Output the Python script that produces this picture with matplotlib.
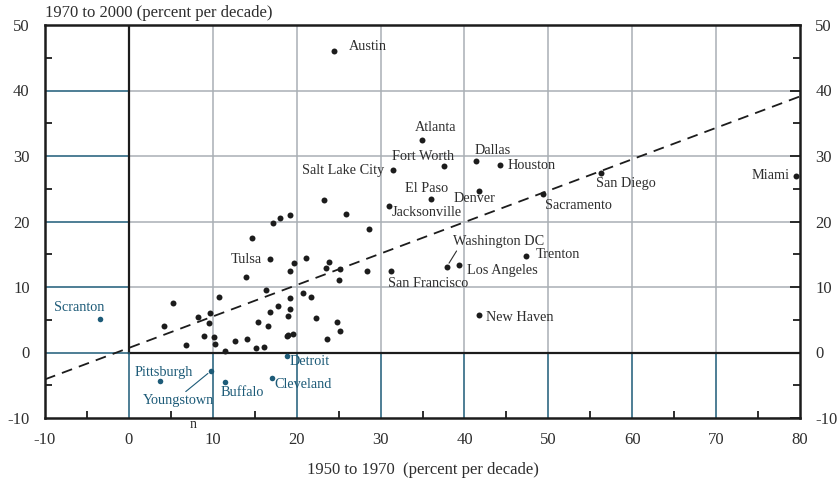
import numpy as np
import matplotlib
matplotlib.use("Agg")
import matplotlib.pyplot as plt

plt.rcParams['font.family'] = ['Liberation Serif', 'DejaVu Serif']
plt.rcParams['axes.unicode_minus'] = False

# labelled cities: growth 1950-1970 (x) and 1970-2000 (y), percent per decade
city_names = ['Austin', 'Atlanta', 'Fort Worth', 'Salt Lake City', 'Dallas', 'Houston',
              'El Paso', 'Denver', 'Jacksonville', 'Sacramento', 'San Diego', 'Miami',
              'Washington DC', 'Los Angeles', 'Trenton', 'San Francisco', 'New Haven',
              'Tulsa', 'Scranton', 'Pittsburgh', 'Youngstown', 'Buffalo', 'Detroit',
              'Cleveland']
city_x = [24.5, 34.9, 37.6, 31.5, 41.4, 44.2, 36.0, 41.7, 31.0, 49.4, 56.3, 79.5,
          37.9, 39.3, 47.3, 31.2, 41.7, 16.8, -3.5, 3.7, 9.8, 11.4, 18.8, 17.0]
city_y = [46.1, 32.5, 28.5, 27.8, 29.2, 28.7, 23.5, 24.6, 22.4, 24.2, 27.4, 26.9,
          13.1, 13.4, 14.8, 12.5, 5.8, 14.2, 5.1, -4.3, -2.8, -4.5, -0.6, -3.9]
declining = ['Scranton', 'Pittsburgh', 'Youngstown', 'Buffalo', 'Detroit', 'Cleveland']

# unlabelled cities
other_x = [23.3, 25.9, 28.6, 17.2, 18.0, 19.2, 14.7, 19.7, 21.1, 23.8, 23.5, 25.2,
           28.4, 19.2, 25.0, 14.0, 16.3, 10.7, 5.3, 20.8, 21.7, 19.2, 17.8, 16.8,
           19.2, 9.7, 8.2, 9.5, 4.2, 15.4, 16.6, 19.0, 22.3, 24.8, 25.2, 23.6,
           18.9, 19.0, 19.6, 8.9, 10.2, 6.8, 10.3, 12.6, 14.1, 11.4, 15.1, 16.1]
other_y = [23.3, 21.2, 18.9, 19.8, 20.5, 21.0, 17.5, 13.7, 14.4, 13.8, 12.9, 12.8,
           12.5, 12.5, 11.0, 11.6, 9.6, 8.5, 7.6, 9.1, 8.4, 8.3, 7.1, 6.2,
           6.7, 6.1, 5.4, 4.5, 4.0, 4.7, 4.0, 5.5, 5.2, 4.6, 3.3, 2.0,
           2.5, 2.7, 2.8, 2.5, 2.4, 1.2, 1.3, 1.7, 2.0, 0.3, 0.7, 0.8]

# fitted trend line
fit_intercept = 0.7
fit_slope = 0.48

# label offsets in pixels (dx right, dy up) and alignment
label_pos = {
    'Austin': (14, 4, 'left'), 'Atlanta': (14, 12, 'center'),
    'Fort Worth': (-21, 9, 'center'), 'Salt Lake City': (-9, 0, 'right'),
    'Dallas': (-2, 11, 'left'), 'Houston': (8, -1, 'left'),
    'El Paso': (-4, 10, 'center'), 'Denver': (-4, -7, 'center'),
    'Jacksonville': (3, -7, 'left'), 'Sacramento': (2, -12, 'left'),
    'San Diego': (-5, -10, 'left'), 'Miami': (-6, 1, 'right'),
    'Washington DC': (6, 25, 'left'), 'Los Angeles': (8, -6, 'left'),
    'Trenton': (10, 1, 'left'), 'San Francisco': (-3, -13, 'left'),
    'New Haven': (7, -3, 'left'), 'Tulsa': (-8, 0, 'right'),
    'Scranton': (-20, 12, 'center'), 'Pittsburgh': (4, 8, 'center'),
    'Youngstown': (-33, -30, 'center'), 'Buffalo': (-4, -11, 'left'),
    'Detroit': (3, -5, 'left'), 'Cleveland': (3, -6, 'left'),
}
leaders = {'Washington DC': (0.06, 0.0), 'Youngstown': (0.56, 1.0)}

black = '#1c1c1c'
text_grey = '#2e2e2e'
teal = '#1d5b78'
grid_grey = '#a9afb5'

fig = plt.figure(figsize=(8.38, 4.79), dpi=100)
ax = fig.add_axes([45 / 838, 1 - 418 / 479, 755 / 838, 393 / 479])
ax.set_xlim(-10, 80)
ax.set_ylim(-10, 50)

# grid: grey in the positive quadrant, teal elsewhere
for gx in range(10, 80, 10):
    ax.axvline(gx, ymin=1 / 6, ymax=1, color=grid_grey, lw=1.1, zorder=1)
    ax.axvline(gx, ymin=0, ymax=1 / 6, color=teal, lw=1.1, zorder=1)
for gy in range(10, 50, 10):
    ax.axhline(gy, xmin=1 / 9, xmax=1, color=grid_grey, lw=1.1, zorder=1)
    ax.axhline(gy, xmin=0, xmax=1 / 9, color=teal, lw=1.1, zorder=1)
ax.axhline(0, xmin=1 / 9, xmax=1, color=black, lw=1.6, zorder=2)
ax.axhline(0, xmin=0, xmax=1 / 9, color=teal, lw=1.1, zorder=2)
ax.axvline(0, ymin=1 / 6, ymax=1, color=black, lw=1.6, zorder=2)
ax.axvline(0, ymin=0, ymax=1 / 6, color=teal, lw=1.1, zorder=2)

# trend line
xl = np.array([-10, 80])
ax.plot(xl, fit_intercept + fit_slope * xl, ls=(0, (6, 4)), color=black, lw=1.3, zorder=3)

ax.plot(other_x, other_y, 'o', color=black, ms=4.3, mew=0, zorder=4)

for name, x, y in zip(city_names, city_x, city_y):
    col = teal if name in declining else black
    tcol = teal if name in declining else text_grey
    ax.plot(x, y, 'o', color=col, ms=4.0 if name in declining else 4.3, mew=0, zorder=4)
    dx, dy, ha = label_pos[name]
    kw = {}
    if name in leaders:
        kw['arrowprops'] = dict(arrowstyle='-', color=tcol, lw=0.8, shrinkA=0, shrinkB=3,
                                relpos=leaders[name])
    ax.annotate(name, (x, y), xytext=(dx * 0.72, dy * 0.72), textcoords='offset points',
                ha=ha, va='center', fontsize=10.3, color=tcol, zorder=5, **kw)

for s in ax.spines.values():
    s.set_linewidth(1.8)
    s.set_color(black)

ax.set_xticks(range(-10, 81, 10))
ax.set_yticks(range(-10, 51, 10))
ax.set_xticks(range(-5, 80, 10), minor=True)
ax.set_yticks(range(-5, 50, 10), minor=True)
ax.tick_params(which='both', direction='in', colors=black, width=1.3,
               left=True, right=True, top=False, bottom=True,
               labelleft=True, labelright=True, labelsize=12, labelcolor=text_grey)
ax.tick_params(which='major', length=0)
ax.tick_params(axis='y', which='major', left=True, length=0, pad=11)
ax.tick_params(axis='y', which='major', right=True, length=7, pad=11)
ax.tick_params(which='minor', length=5)
ax.tick_params(axis='x', which='major', pad=10)
for t in ax.yaxis.get_major_ticks():
    t.tick1line.set_markersize(0)

ax.text(7.6, -11.0, 'n', ha='center', va='center', fontsize=10, color=text_grey, clip_on=False)
ax.text(0.0, 1.01, '1970 to 2000 (percent per decade)', transform=ax.transAxes,
        ha='left', va='bottom', fontsize=12, color=text_grey)
ax.set_xlabel('1950 to 1970  (percent per decade)', fontsize=12, color=text_grey, labelpad=10)

fig.savefig('out.png', dpi=100)
